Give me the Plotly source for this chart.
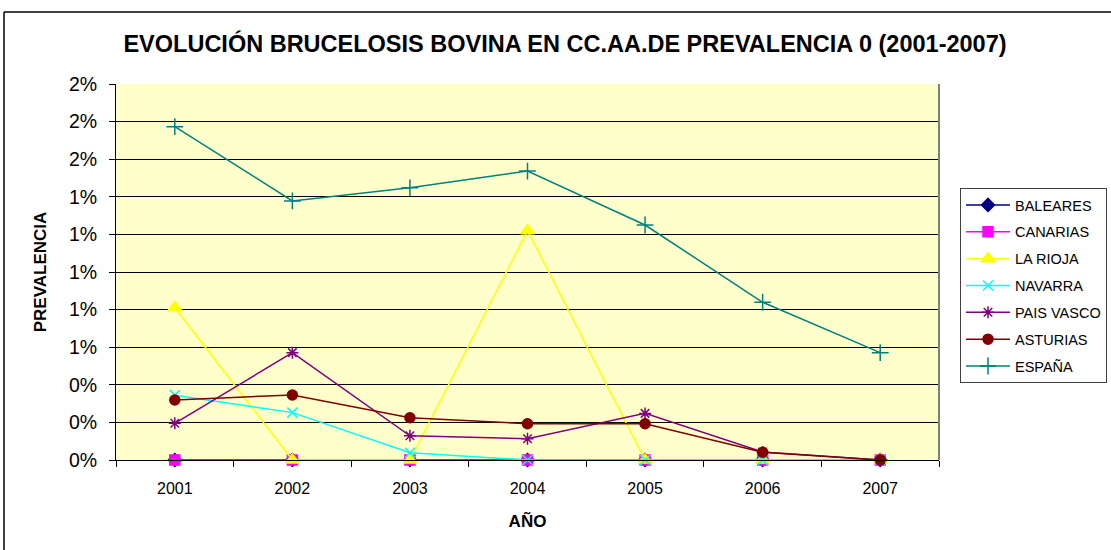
import plotly.graph_objects as go

years = ["2001", "2002", "2003", "2004", "2005", "2006", "2007"]
baleares = [0, 0, 0, 0, 0, 0, 0]
canarias = [0, 0, 0, 0, 0, 0, 0]
la_rioja = [0.0081, 0, 0, 0.0122, 0, 0, 0]
navarra = [0.00345, 0.00252, 0.00039, 0, 0, 0, 0]
pais_vasco = [0.00195, 0.00571, 0.00129, 0.00113, 0.00248, 0.00043, 0]
asturias = [0.00319, 0.00346, 0.00225, 0.00193, 0.00193, 0.00041, 0]
espana = [0.01773, 0.01378, 0.01448, 0.01537, 0.0125, 0.00839, 0.00571]

tick_vals = [0, 0.002, 0.004, 0.006, 0.008, 0.010, 0.012, 0.014, 0.016, 0.018, 0.020]
tick_text = ["0%", "0%", "0%", "1%", "1%", "1%", "1%", "1%", "2%", "2%", "2%"]

series = [
    ("BALEARES", baleares, "#000080", "diamond", 10),
    ("CANARIAS", canarias, "#FF00FF", "square", 10),
    ("LA RIOJA", la_rioja, "#FFFF00", "triangle-up", 12),
    ("NAVARRA", navarra, "#00FFFF", "x-thin-open", 10),
    ("PAIS VASCO", pais_vasco, "#800080", "asterisk-open", 10),
    ("ASTURIAS", asturias, "#800000", "circle", 10),
    ("ESPAÑA", espana, "#008080", "cross-thin-open", 12),
]

FONT = "Arial, Liberation Sans, sans-serif"

fig = go.Figure()
for i, (name, vals, color, sym, size) in enumerate(series):
    fig.add_trace(go.Scatter(
        x=years, y=vals, name=name, mode="lines+markers",
        line=dict(color=color, width=1.5),
        marker=dict(symbol=sym, size=size, color=color,
                    line=dict(color=color, width=1.5)),
        legendgroup=name, cliponaxis=False,
    ))

fig.update_layout(
    width=1111, height=550,
    margin=dict(l=116, r=172, t=84, b=90, autoexpand=False),
    paper_bgcolor="white",
    plot_bgcolor="#FFFFCC",
    font=dict(family=FONT, color="black"),
    title=dict(text="<b>EVOLUCIÓN BRUCELOSIS BOVINA EN CC.AA.DE PREVALENCIA 0 (2001-2007)</b>",
               x=565 / 1111, xref="container", xanchor="center",
               y=1 - 44 / 550, yref="container", yanchor="middle",
               font=dict(size=23.5, family=FONT)),
    showlegend=True,
    legend=dict(x=(960 - 116) / 823, xanchor="left", y=(460 - 188) / 376, yanchor="top",
                bgcolor="white", bordercolor="#404040", borderwidth=1,
                font=dict(size=14.5, family=FONT), itemwidth=44,
                traceorder="grouped", tracegroupgap=5),
    xaxis=dict(type="category", tickson="boundaries", ticks="outside", ticklen=6,
               tickcolor="black", showline=True, linecolor="black", linewidth=1,
               showgrid=False, tickfont=dict(size=16), ticklabelstandoff=14,
               title=dict(text="<b>AÑO</b>", font=dict(size=17), standoff=18),
               range=[-0.5, 6.5]),
    yaxis=dict(range=[0, 0.020], tickvals=tick_vals, ticktext=tick_text,
               ticks="outside", ticklen=6, tickcolor="black",
               showline=True, linecolor="black", linewidth=1,
               showgrid=True, gridcolor="black", gridwidth=1, zeroline=False,
               tickfont=dict(size=19.5), ticklabelstandoff=8,
               title=dict(text="<b>PREVALENCIA</b>", font=dict(size=17), standoff=17)),
    shapes=[
        dict(type="line", xref="paper", yref="paper", x0=1, x1=1, y0=0, y1=1,
             line=dict(color="#808080", width=2)),
        dict(type="line", xref="paper", yref="paper", x0=(4 - 116) / 823, x1=(4 - 116) / 823,
             y0=(460 - 12) / 376, y1=(460 - 560) / 376, line=dict(color="black", width=1.5)),
        dict(type="line", xref="paper", yref="paper", x0=(4 - 116) / 823, x1=(1120 - 116) / 823,
             y0=(460 - 12) / 376, y1=(460 - 12) / 376, line=dict(color="black", width=1.5)),
    ],
)

fig.write_html("out.html", config={"displayModeBar": False},
               post_script="document.body.style.margin='0';")
